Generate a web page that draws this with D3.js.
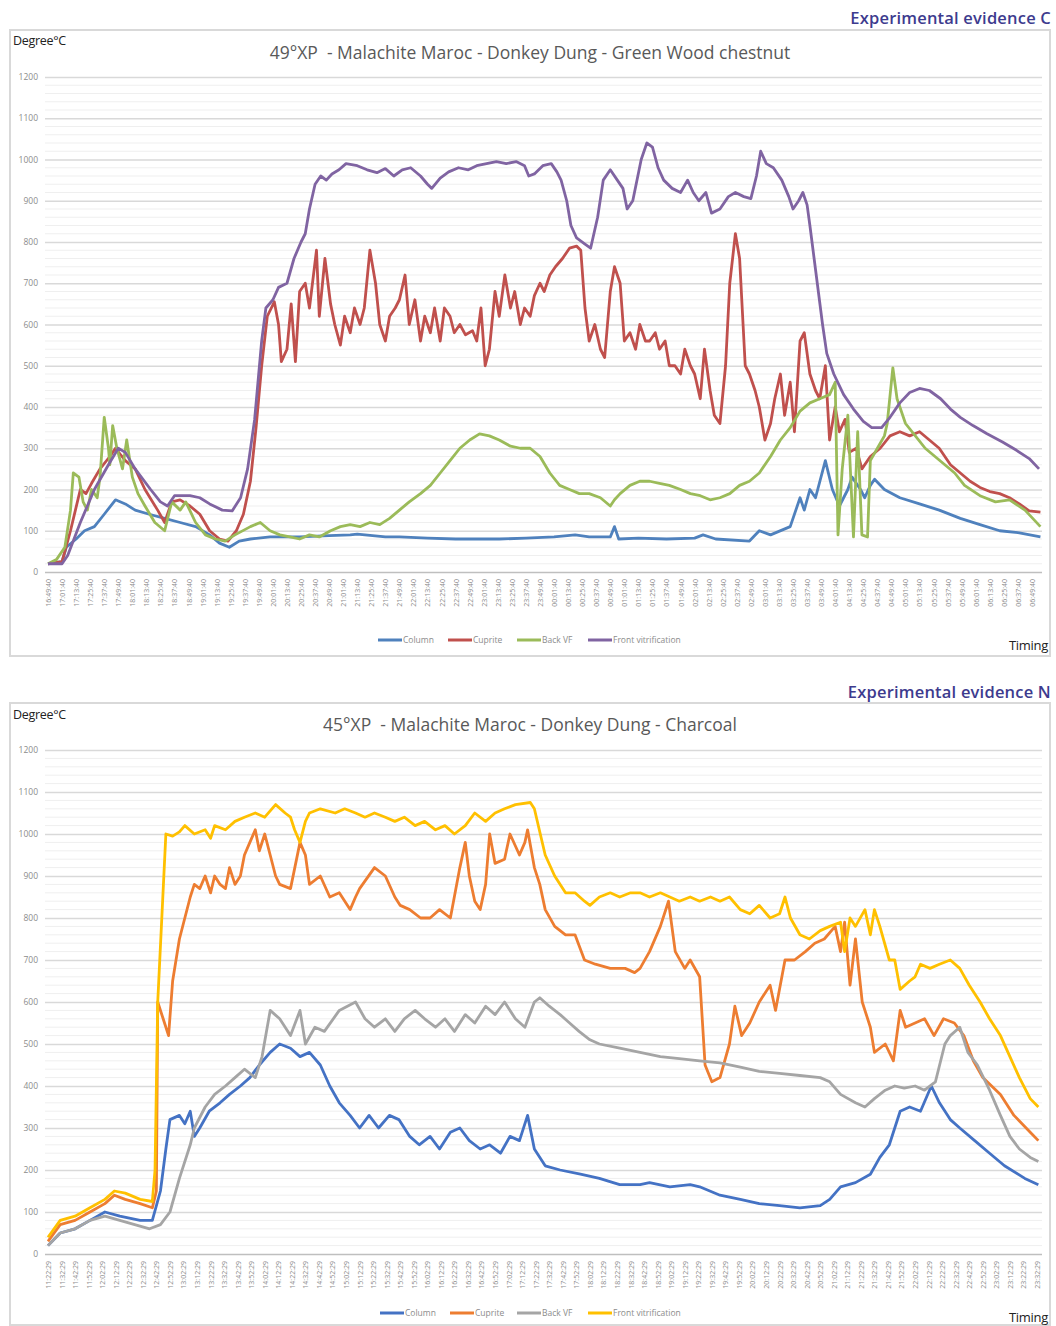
<!DOCTYPE html>
<html>
<head>
<meta charset="utf-8">
<script src="https://cdn.jsdelivr.net/npm/d3@7"></script>
<style>
  body { margin: 0; background: #fff; }
  text { font-family: "Open Sans", "Noto Sans", sans-serif; }
</style>
</head>
<body>
<script>
// ---- data: [label index, °C] ----
const topLabels = ["16:49:40","17:01:40","17:13:40","17:25:40","17:37:40","17:49:40","18:01:40","18:13:40","18:25:40","18:37:40","18:49:40","19:01:40","19:13:40","19:25:40","19:37:40","19:49:40","20:01:40","20:13:40","20:25:40","20:37:40","20:49:40","21:01:40","21:13:40","21:25:40","21:37:40","21:49:40","22:01:40","22:13:40","22:25:40","22:37:40","22:49:40","23:01:40","23:13:40","23:25:40","23:37:40","23:49:40","00:01:40","00:13:40","00:25:40","00:37:40","00:49:40","01:01:40","01:13:40","01:25:40","01:37:40","01:49:40","02:01:40","02:13:40","02:25:40","02:37:40","02:49:40","03:01:40","03:13:40","03:25:40","03:37:40","03:49:40","04:01:40","04:13:40","04:25:40","04:37:40","04:49:40","05:01:40","05:13:40","05:25:40","05:37:40","05:49:40","06:01:40","06:13:40","06:25:40","06:37:40","06:49:40"];

const bottomLabels = ["11:22:29","11:32:29","11:42:29","11:52:29","12:02:29","12:12:29","12:22:29","12:32:29","12:42:29","12:52:29","13:02:29","13:12:29","13:22:29","13:32:29","13:42:29","13:52:29","14:02:29","14:12:29","14:22:29","14:32:29","14:42:29","14:52:29","15:02:29","15:12:29","15:22:29","15:32:29","15:42:29","15:52:29","16:02:29","16:12:29","16:22:29","16:32:29","16:42:29","16:52:29","17:02:29","17:12:29","17:22:29","17:32:29","17:42:29","17:52:29","18:02:29","18:12:29","18:22:29","18:32:29","18:42:29","18:52:29","19:02:29","19:12:29","19:22:29","19:32:29","19:42:29","19:52:29","20:02:29","20:12:29","20:22:29","20:32:29","20:42:29","20:52:29","21:02:29","21:12:29","21:22:29","21:32:29","21:42:29","21:52:29","22:02:29","22:12:29","22:22:29","22:32:29","22:42:29","22:52:29","23:02:29","23:12:29","23:22:29","23:32:29"];

const seriesNames = ["Column", "Cuprite", "Back VF", "Front vitrification"];
const yTicks = [0, 100, 200, 300, 400, 500, 600, 700, 800, 900, 1000, 1100, 1200];

// 49°XP - Green Wood chestnut
const topColumn = [[0,20],[1,25],[1.3,60],[2,80],[2.6,100],[3.3,110],[4,140],[4.8,175],[5.5,165],[6.2,150],[7.2,140],[8.3,130],[9.4,120],[10.5,110],[11.5,90],[12.2,70],[12.9,60],[13.6,75],[14.4,80],[15.8,85],[17.9,85],[20,88],[21.5,90],[22,92],[24,85],[25,85],[27,82],[29,80],[32.1,80],[34,82],[36,85],[37.5,90],[38.5,85],[40,85],[40.3,110],[40.6,80],[42,82],[44,80],[46,82],[46.6,90],[47.5,80],[49.9,75],[50.6,100],[51.4,90],[52.8,110],[53.5,180],[53.8,150],[54.2,200],[54.6,180],[55.3,270],[55.8,200],[56.3,160],[56.9,200],[57.2,230],[57.8,200],[58.1,180],[58.5,210],[58.8,225],[59.5,200],[60.6,180],[62,165],[63.4,150],[64.9,130],[66.3,115],[67.7,100],[69.1,95],[70.6,85]];

const topCuprite = [[0,20],[1,25],[1.6,100],[2.3,200],[2.7,190],[3.1,215],[3.7,250],[4.4,280],[4.8,300],[5.5,270],[6.2,250],[6.9,200],[7.8,150],[8.3,120],[8.8,170],[9.4,175],[10.1,160],[10.8,140],[11.5,100],[12.2,80],[12.8,75],[13.4,100],[13.9,140],[14.4,220],[14.8,350],[15.2,500],[15.6,620],[16.1,655],[16.4,600],[16.6,510],[17,540],[17.3,650],[17.6,510],[17.9,680],[18.3,700],[18.6,640],[19.1,780],[19.3,620],[19.7,760],[20.1,650],[20.4,600],[20.8,550],[21.1,620],[21.5,580],[21.8,640],[22.2,600],[22.5,640],[22.9,780],[23.3,700],[23.6,600],[24,560],[24.3,620],[24.7,640],[25,660],[25.4,720],[25.7,600],[26.1,660],[26.5,560],[26.8,620],[27.2,580],[27.5,640],[27.9,560],[28.2,640],[28.6,620],[28.9,580],[29.3,600],[29.7,575],[30.2,585],[30.5,560],[30.8,640],[31.1,500],[31.4,540],[31.8,680],[32.1,620],[32.5,720],[32.9,640],[33.2,680],[33.6,600],[33.9,640],[34.3,620],[34.6,670],[35,700],[35.3,680],[35.7,720],[36.1,740],[36.6,760],[37.1,785],[37.6,790],[37.9,780],[38.2,640],[38.5,560],[38.9,600],[39.3,540],[39.6,520],[40,680],[40.3,740],[40.7,700],[41,560],[41.4,580],[41.8,540],[42.1,600],[42.5,560],[42.8,560],[43.2,580],[43.5,540],[43.9,560],[44.2,500],[44.6,500],[45,480],[45.3,540],[45.7,500],[46,480],[46.4,420],[46.7,540],[47.1,440],[47.4,380],[47.8,360],[48.2,500],[48.5,700],[48.9,820],[49.2,760],[49.6,500],[49.9,480],[50.3,440],[50.6,400],[51,320],[51.4,360],[51.7,420],[52.1,480],[52.4,380],[52.8,460],[53.1,340],[53.5,560],[53.8,580],[54.2,480],[54.6,440],[54.9,420],[55.3,500],[55.6,320],[56,400],[56.3,340],[56.7,370],[57,290],[57.5,300],[57.9,250],[58.5,280],[59.2,300],[59.9,330],[60.6,340],[61.3,330],[62,340],[62.7,320],[63.4,300],[64.2,260],[64.9,240],[65.6,220],[66.3,205],[67,195],[67.7,190],[68.4,180],[69.1,165],[69.8,148],[70.6,145]];

const topBackVF = [[0,20],[0.6,30],[1.2,60],[1.6,150],[1.8,240],[2.2,230],[2.5,170],[2.8,150],[3.1,200],[3.5,180],[3.7,230],[4,375],[4.3,300],[4.4,260],[4.6,355],[4.9,300],[5.3,250],[5.6,320],[6,230],[6.4,190],[6.9,160],[7.6,120],[8.3,100],[8.8,170],[9.4,150],[9.8,170],[10.5,120],[11.2,90],[11.9,80],[12.6,75],[13.3,90],[14.4,110],[15.1,120],[15.8,100],[16.5,90],[17.2,85],[17.9,80],[18.6,90],[19.3,85],[20.1,100],[20.8,110],[21.5,115],[22.2,110],[22.9,120],[23.6,115],[24.3,130],[25,150],[25.7,170],[26.5,190],[27.2,210],[27.9,240],[28.6,270],[29.3,300],[30,320],[30.7,335],[31.4,330],[32.1,320],[32.9,305],[33.6,300],[34.3,300],[35,280],[35.7,240],[36.4,210],[37.1,200],[37.8,190],[38.5,190],[39.3,180],[40,160],[40.3,175],[40.7,190],[41.4,210],[42.1,220],[42.8,220],[43.5,215],[44.2,210],[45,200],[45.7,190],[46.4,185],[47.1,175],[47.8,180],[48.5,190],[49.2,210],[49.9,220],[50.6,240],[51.4,280],[52.1,320],[52.8,350],[53.5,390],[54.2,410],[54.9,420],[55.6,430],[56,460],[56.2,90],[56.5,250],[56.9,380],[57.3,85],[57.6,340],[57.9,90],[58.3,85],[58.5,270],[59,300],[59.5,330],[59.7,360],[60.1,495],[60.4,420],[61,360],[61.7,330],[62.4,300],[63.1,280],[63.8,260],[64.5,240],[65.2,210],[66.3,185],[67.4,170],[68.4,175],[69.5,150],[70.6,110]];

const topFront = [[0,20],[1,20],[1.4,40],[2.3,120],[3.3,200],[4.3,260],[5,300],[5.5,290],[6.2,250],[7.3,200],[8,170],[8.5,160],[9,185],[10.1,185],[10.8,180],[11.5,165],[12.4,150],[13.1,148],[13.7,180],[14.2,250],[14.7,370],[15.2,560],[15.5,640],[16,660],[16.4,690],[17,700],[17.5,760],[18,800],[18.3,820],[18.6,880],[19,940],[19.4,960],[19.8,950],[20.2,965],[20.7,975],[21.2,990],[22,985],[22.7,975],[23.4,968],[24,978],[24.6,960],[25.2,975],[25.8,980],[26.5,960],[27,940],[27.3,930],[27.9,955],[28.5,970],[29.2,980],[29.9,975],[30.5,985],[31.2,990],[31.9,995],[32.6,990],[33.3,995],[33.9,985],[34.2,960],[34.6,965],[35.2,985],[35.8,990],[36.2,970],[36.5,950],[36.9,900],[37.2,840],[37.6,810],[38.2,795],[38.6,785],[39.1,860],[39.5,950],[40,975],[40.5,950],[40.9,930],[41.2,880],[41.6,900],[42.2,1000],[42.6,1040],[43,1030],[43.4,980],[43.8,950],[44.4,930],[45,920],[45.5,950],[45.9,920],[46.3,900],[46.8,920],[47.2,870],[47.8,880],[48.4,910],[48.9,920],[49.5,910],[50,905],[50.4,960],[50.7,1020],[51.1,990],[51.6,980],[52.2,950],[52.7,910],[53,880],[53.4,900],[53.7,920],[54,890],[54.2,840],[54.5,760],[54.8,680],[55.1,600],[55.4,530],[55.9,480],[56.6,430],[57.3,395],[58,365],[58.6,350],[59.3,350],[59.9,375],[60.6,410],[61.3,435],[62,445],[62.7,440],[63.5,420],[64.2,395],[64.9,375],[65.8,355],[66.8,335],[67.9,315],[68.9,295],[69.8,275],[70.5,250]];

// 45°XP - Charcoal
const bottomColumn = [[0,20],[0.9,50],[2,60],[3.1,80],[4.2,100],[5.3,90],[6.8,80],[7.7,80],[8.3,150],[8.7,250],[9,320],[9.7,330],[10.1,310],[10.5,340],[10.8,280],[11.2,300],[11.9,340],[12.7,360],[13.4,380],[14.2,400],[14.9,420],[15.6,450],[16.4,480],[17.1,500],[17.9,490],[18.6,470],[19.3,480],[20.1,450],[20.8,400],[21.5,360],[22.3,330],[23,300],[23.7,330],[24.4,300],[25.2,330],[25.9,320],[26.7,280],[27.4,260],[28.2,280],[28.9,250],[29.7,290],[30.4,300],[31.1,270],[31.9,250],[32.6,260],[33.4,240],[34.1,280],[34.8,270],[35.4,330],[35.9,250],[36.7,210],[37.8,200],[39.3,190],[40.7,180],[42.2,165],[43.7,165],[44.4,170],[45.9,160],[47.4,165],[48.1,160],[49.6,140],[51.1,130],[52.5,120],[54,115],[55.5,110],[57,115],[57.7,130],[58.5,160],[59.6,170],[60.7,190],[61.4,230],[62.1,260],[62.9,340],[63.6,350],[64.4,340],[65.2,400],[65.8,360],[66.6,320],[67.3,300],[68.4,270],[69.5,240],[70.6,210],[72.1,180],[73.1,165]];

const bottomCuprite = [[0,30],[0.9,70],[2,80],[3.1,100],[4.2,120],[4.9,140],[5.7,130],[6.8,120],[7.7,110],[8,150],[8.1,600],[8.5,560],[8.9,520],[9.2,650],[9.7,750],[10.5,850],[10.8,880],[11.2,870],[11.6,900],[12,860],[12.3,900],[12.7,880],[13.1,870],[13.4,920],[13.8,880],[14.2,900],[14.5,950],[14.9,980],[15.3,1010],[15.6,960],[16,1000],[16.4,950],[16.8,900],[17.1,880],[17.9,870],[18.6,980],[19,950],[19.3,880],[20.1,900],[20.8,850],[21.5,860],[22.3,820],[22.7,850],[23,870],[24.1,920],[24.9,900],[25.6,850],[26,830],[26.7,820],[27.5,800],[28.2,800],[28.9,820],[29.7,800],[30.4,920],[30.8,980],[31.1,900],[31.5,840],[31.9,820],[32.3,880],[32.6,1000],[33,930],[33.7,940],[34.1,1000],[34.8,950],[35.2,980],[35.4,1010],[35.9,920],[36.3,880],[36.7,820],[37.4,780],[38.2,760],[38.9,760],[39.6,700],[40.4,690],[41.5,680],[42.6,680],[43.3,670],[43.7,680],[44.4,720],[45.2,780],[45.8,840],[46.3,720],[47,680],[47.4,700],[48.1,660],[48.5,450],[49,410],[49.6,420],[50.3,500],[50.7,590],[51.2,520],[51.8,550],[52.5,600],[53.3,640],[53.7,580],[54.4,700],[55.1,700],[55.9,720],[56.6,740],[57.3,750],[58.1,780],[58.5,720],[58.8,790],[59.2,640],[59.6,750],[60.1,600],[60.7,540],[61,480],[61.8,500],[62.4,460],[62.9,580],[63.3,540],[64,550],[64.7,560],[65.4,520],[66.1,560],[66.9,550],[67.6,520],[68.3,460],[69,420],[70.3,380],[71.3,330],[72.5,290],[73.1,270]];

const bottomBackVF = [[0,20],[0.9,50],[2,60],[3.1,80],[4.2,90],[5.3,80],[6.4,70],[7.5,60],[8.3,70],[9,100],[9.7,180],[10.5,260],[10.8,300],[11.6,350],[12.3,380],[13.1,400],[13.8,420],[14.5,440],[15.3,420],[15.8,470],[16.4,580],[17.1,560],[17.9,520],[18.6,580],[19,500],[19.7,540],[20.4,530],[21.5,580],[22.7,600],[23.4,560],[24.1,540],[24.9,560],[25.6,530],[26.3,560],[27.1,580],[27.8,560],[28.6,540],[29.3,560],[30,530],[30.8,570],[31.5,550],[32.3,590],[33,570],[33.7,600],[34.5,560],[35.2,540],[35.9,600],[36.3,610],[37,590],[37.8,570],[38.5,550],[39.2,530],[40,510],[40.7,500],[42.2,490],[43.7,480],[45.2,470],[46.6,465],[48.1,460],[49.6,455],[51.1,445],[52.5,435],[54,430],[55.5,425],[57,420],[57.7,410],[58.5,380],[59.6,360],[60.3,350],[61,370],[61.8,390],[62.5,400],[63.2,395],[64,400],[64.7,390],[65.5,410],[66.2,500],[66.6,520],[67.3,540],[67.9,480],[68.6,450],[69.5,390],[70.3,330],[71,280],[71.7,250],[72.5,230],[73.1,220]];

const bottomFront = [[0,40],[0.9,80],[2,90],[3.1,110],[4.2,130],[4.9,150],[5.7,145],[6.8,130],[7.7,125],[7.9,200],[8.1,600],[8.4,800],[8.7,1000],[9.2,995],[9.7,1005],[10.1,1020],[10.8,1000],[11.6,1010],[12,990],[12.3,1020],[13.1,1010],[13.8,1030],[14.5,1040],[15.3,1050],[16,1040],[16.8,1070],[17.5,1050],[17.9,1040],[18.2,1010],[18.6,980],[19,1030],[19.3,1050],[20.1,1060],[21.2,1050],[21.9,1060],[22.7,1050],[23.4,1040],[24.1,1050],[24.9,1040],[25.6,1030],[26.3,1040],[27.1,1020],[27.8,1030],[28.6,1010],[29.3,1020],[30,1000],[30.8,1020],[31.5,1050],[32.3,1030],[33,1050],[33.7,1060],[34.5,1070],[35.6,1075],[35.9,1060],[36.7,950],[37.4,900],[38.2,860],[38.9,860],[39.6,840],[40,830],[40.7,850],[41.5,860],[42.2,850],[43,860],[43.7,860],[44.4,850],[45.2,860],[45.9,850],[46.6,840],[47.4,850],[48.1,840],[48.9,850],[49.6,840],[50.3,850],[51.1,820],[51.8,810],[52.5,830],[53.3,800],[54,810],[54.4,850],[54.8,800],[55.5,760],[56.2,750],[57,770],[57.7,780],[58.5,790],[58.8,720],[59.2,800],[59.6,780],[60.3,820],[60.7,760],[61,820],[61.4,780],[62.1,700],[62.5,700],[62.9,630],[63.6,650],[64,660],[64.4,690],[65.1,680],[65.8,690],[66.6,700],[67.3,680],[68,640],[68.8,600],[69.5,560],[70.3,520],[71,470],[71.7,420],[72.5,370],[73.1,350]];

// ---- drawing ----
const svg = d3.select("body").append("svg")
    .attr("width", 1056)
    .attr("height", 1326);

function drawPanel(p) {
    const g = svg.append("g");

    // frame around the chart
    g.append("rect")
        .attr("x", p.box[0]).attr("y", p.box[1])
        .attr("width", p.box[2]).attr("height", p.box[3])
        .attr("fill", "#fff").attr("stroke", "#d9d9d9").attr("stroke-width", 2);

    g.append("text")
        .attr("x", 1051).attr("y", p.evidenceY)
        .attr("text-anchor", "end")
        .attr("font-size", 16.5).attr("font-weight", 600)
        .attr("letter-spacing", 0.2)
        .attr("fill", "#3d3b8e")
        .text(p.evidence);

    g.append("text")
        .attr("x", 13).attr("y", p.degreeY)
        .attr("font-size", 12.5).attr("letter-spacing", -0.3)
        .attr("fill", "#222")
        .text("Degree°C");

    g.append("text")
        .attr("x", 530).attr("y", p.titleY)
        .attr("text-anchor", "middle")
        .attr("font-size", 17.5)
        .attr("fill", "#595959")
        .style("white-space", "pre")
        .text(p.title);

    const x = d3.scaleLinear()
        .domain([0, p.labels.length - 1])
        .range([p.x0, p.x1]);
    const y = d3.scaleLinear()
        .domain([0, 1200])
        .range([p.yBottom, p.yTop]);

    // minor and major gridlines
    const minor = d3.range(20, 1200, 20).filter(v => v % 100 !== 0);
    g.append("g").selectAll("line").data(minor).join("line")
        .attr("x1", p.plotLeft).attr("x2", p.plotRight)
        .attr("y1", d => y(d)).attr("y2", d => y(d))
        .attr("stroke", "#efefef").attr("stroke-width", 1);

    g.append("g")
        .attr("transform", `translate(${p.plotLeft},0)`)
        .call(d3.axisLeft(y).tickValues(yTicks).tickFormat(d3.format("d"))
            .tickSize(-(p.plotRight - p.plotLeft)).tickPadding(7))
        .call(a => a.select(".domain").remove())
        .call(a => a.selectAll(".tick line").attr("stroke", d => d === 0 ? "#bfbfbf" : "#d9d9d9").attr("stroke-width", 1.3))
        .call(a => a.selectAll(".tick text")
            .attr("fill", "#8c8c8c").attr("font-size", 8.5)
            .attr("font-family", "'Open Sans', sans-serif"));

    // x axis: rotated time labels
    g.append("g")
        .attr("transform", `translate(0,${p.yBottom})`)
        .call(d3.axisBottom(x).tickValues(d3.range(p.labels.length)).tickFormat(i => p.labels[i]).tickSize(0))
        .call(a => a.select(".domain").remove())
        .call(a => a.selectAll(".tick text")
            .attr("fill", "#8c8c8c").attr("font-size", 7)
            .attr("font-family", "'Open Sans', sans-serif")
            .attr("text-anchor", "end")
            .attr("transform", "rotate(-90)")
            .attr("x", -7).attr("y", 0).attr("dy", "0.35em"));

    // series
    const line = d3.line()
        .x(d => x(d[0]))
        .y(d => y(d[1]));

    g.append("g").selectAll("path").data(p.series).join("path")
        .attr("d", s => line(s.values))
        .attr("fill", "none")
        .attr("stroke", s => s.color)
        .attr("stroke-width", 2.8)
        .attr("stroke-linejoin", "round");

    // legend
    const lg = g.append("g").selectAll("g").data(p.series).join("g")
        .attr("transform", (s, i) => `translate(${p.legendX[i]},${p.legendY})`);
    lg.append("line")
        .attr("x1", 0).attr("x2", 24)
        .attr("stroke", s => s.color).attr("stroke-width", 3);
    lg.append("text")
        .attr("x", 25).attr("dy", "0.35em")
        .attr("font-size", 8.5).attr("fill", "#8c8c8c")
        .text(s => s.name);

    g.append("text")
        .attr("x", 1048).attr("y", p.timingY)
        .attr("text-anchor", "end")
        .attr("font-size", 13).attr("letter-spacing", -0.3)
        .attr("fill", "#222")
        .text("Timing");
}

const topColors = ["#4F81BD", "#C0504D", "#9BBB59", "#8064A2"];
const bottomColors = ["#4472C4", "#ED7D31", "#A5A5A5", "#FFC000"];

drawPanel({
    box: [10, 30, 1040, 626],
    evidence: "Experimental evidence C", evidenceY: 24,
    degreeY: 45,
    title: "49°XP  - Malachite Maroc - Donkey Dung - Green Wood chestnut", titleY: 59,
    labels: topLabels,
    x0: 48, x1: 1032, plotLeft: 45, plotRight: 1042,
    yTop: 77, yBottom: 572,
    legendX: [378, 448, 517, 588], legendY: 640, timingY: 650,
    series: [topColumn, topCuprite, topBackVF, topFront].map((v, i) => ({name: seriesNames[i], color: topColors[i], values: v}))
});

drawPanel({
    box: [10, 703, 1040, 622],
    evidence: "Experimental evidence N", evidenceY: 698,
    degreeY: 719,
    title: "45°XP  - Malachite Maroc - Donkey Dung - Charcoal", titleY: 731,
    labels: bottomLabels,
    x0: 48, x1: 1037, plotLeft: 45, plotRight: 1042,
    yTop: 750, yBottom: 1254,
    legendX: [380, 450, 517, 588], legendY: 1313, timingY: 1322,
    series: [bottomColumn, bottomCuprite, bottomBackVF, bottomFront].map((v, i) => ({name: seriesNames[i], color: bottomColors[i], values: v}))
});
</script>
</body>
</html>
